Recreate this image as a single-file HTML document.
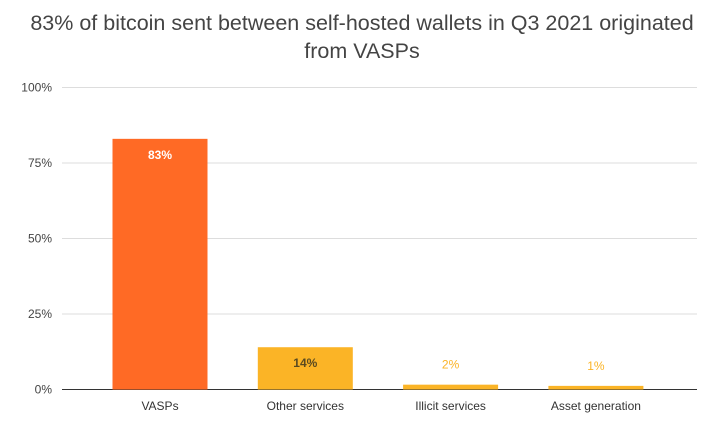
<!DOCTYPE html>
<html><head><meta charset="utf-8"><style>
body{margin:0;background:#fff;width:719px;height:428px;overflow:hidden;font-family:"Liberation Sans",Arial,sans-serif}
</style></head><body>
<svg id="chart" width="719" height="428" xmlns="http://www.w3.org/2000/svg">
<text x="362" y="30" text-anchor="middle" font-size="21.5" fill="#444">83% of bitcoin sent between self-hosted wallets in Q3 2021 originated</text>
<text x="362" y="58" text-anchor="middle" font-size="21.5" fill="#444">from VASPs</text>
<g id="grid"></g><g id="bars"></g>
</svg>
<script>
const categories=["VASPs","Other services","Illicit services","Asset generation"];
const values=[83,14,1.6,1.2];
const valueLabels=["83%","14%","2%","1%"];
const yTicks=[0,25,50,75,100];
const yTickLabels=["0%","25%","50%","75%","100%"];
const NS="http://www.w3.org/2000/svg";
const svg=document.getElementById('chart'),grid=document.getElementById('grid'),barsG=document.getElementById('bars');
const y0=389.5,yTop=87.5,xL=62,xR=697;
function y(v){return y0-(v/100)*(y0-yTop);}
function xc(i){return 160+i*145.3;}
function mk(t,a,p){const e=document.createElementNS(NS,t);for(const k in a)e.setAttribute(k,a[k]);p.appendChild(e);return e;}
yTicks.forEach((t,i)=>{
 const l=mk('line',{x1:xL,x2:xR,y1:y(t),y2:y(t),stroke:t===0?'#333':'#ddd','stroke-width':1},grid);
 
 
 const tx=mk('text',{x:52,y:y(t)+4,'text-anchor':'end','font-size':12,fill:'#444'},grid);
 tx.textContent=yTickLabels[i];
 
 
});
values.forEach((v,i)=>{
 const w=95,cx=xc(i);
 const r=mk('rect',{x:cx-w/2,y:y(v),width:w,height:y0-y(v),fill:i===0?'#FF6A25':'#FBB426'},barsG);
 
 
 const inside=v>5;
 const lt=mk('text',{x:cx,y:inside?y(v)+20:y(v)-16,'text-anchor':'middle','font-size':12,'font-weight':inside?'bold':'normal',fill:i===0?'#fff':(inside?'#5a4a20':'#FBB426')},barsG);
 lt.textContent=valueLabels[i];
 
 
 const ct=mk('text',{x:cx,y:410,'text-anchor':'middle','font-size':12,fill:'#333'},barsG);
 ct.textContent=categories[i];
 
 
});
</script>
</body></html>
